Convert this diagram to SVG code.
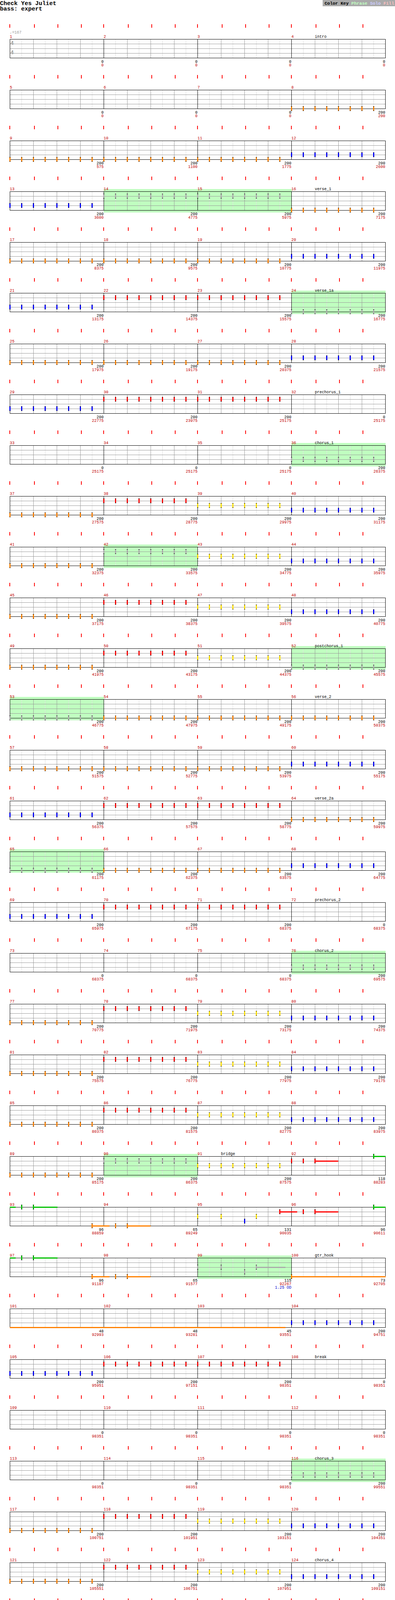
<svg xmlns="http://www.w3.org/2000/svg" width="1010" height="5185" viewBox="0 0 1010 5185">
<defs>
<style>
.t{font-family:"Liberation Mono","DejaVu Sans Mono",monospace;font-size:10px}
.mn{fill:#c00000}
.lb{fill:#000}
.sb{text-anchor:end;fill:#000}
.sr{text-anchor:end;fill:#c00000}
.ph{fill:#c0ffc0}
.sO{fill:#ff8000}.sR{fill:#ff0000}.sG{fill:#00c000}.sS{fill:#aaaaaa}
</style>
<g id="staff" fill="none">
<path stroke="#dddddd" d="M55.5 0V48M115.5 0V48M175.5 0V48M235.5 0V48M295.5 0V48M355.5 0V48M415.5 0V48M475.5 0V48M535.5 0V48M595.5 0V48M655.5 0V48M715.5 0V48M775.5 0V48M835.5 0V48M895.5 0V48M955.5 0V48"/>
<path stroke="#999999" d="M85.5 0V48M145.5 0V48M205.5 0V48M325.5 0V48M385.5 0V48M445.5 0V48M565.5 0V48M625.5 0V48M685.5 0V48M805.5 0V48M865.5 0V48M925.5 0V48M25 12.5H985M25 24.5H985M25 36.5H985"/>
<path stroke="#000" d="M265.5 0V48M505.5 0V48M745.5 0V48"/>
<rect x="25.5" y="0.5" width="960" height="48" stroke="#000"/>
</g>
<g id="ticks" fill="#ff0000">
<rect x="24" y="-38" width="2" height="9"/><rect x="87" y="-38" width="2" height="9"/><rect x="147" y="-38" width="2" height="9"/><rect x="207" y="-38" width="2" height="9"/>
<rect x="264" y="-38" width="2" height="9"/><rect x="327" y="-38" width="2" height="9"/><rect x="387" y="-38" width="2" height="9"/><rect x="447" y="-38" width="2" height="9"/>
<rect x="504" y="-38" width="2" height="9"/><rect x="567" y="-38" width="2" height="9"/><rect x="627" y="-38" width="2" height="9"/><rect x="687" y="-38" width="2" height="9"/>
<rect x="744" y="-38" width="2" height="9"/><rect x="807" y="-38" width="2" height="9"/><rect x="867" y="-38" width="2" height="9"/><rect x="927" y="-38" width="2" height="9"/>
</g>
<g id="nO"><rect x="-1" y="-6" width="3" height="12"/><rect x="-1" y="-5" width="3" height="10" fill="#ff8000"/></g>
<g id="nB"><rect x="-1" y="-6" width="3" height="12"/><rect x="-1" y="-5" width="3" height="10" fill="#0000ff"/></g>
<g id="nR"><rect x="-1" y="-6" width="3" height="12"/><rect x="-1" y="-5" width="3" height="10" fill="#ff0000"/></g>
<g id="nY"><rect x="-1" y="-6" width="3" height="12"/><rect x="-1" y="-5" width="3" height="10" fill="#ffe000"/></g>
<g id="nG"><rect x="-1" y="-6" width="3" height="12"/><rect x="-1" y="-5" width="3" height="10" fill="#00c000"/></g>
<g id="nS"><rect x="-1" y="-6" width="3" height="12"/><rect x="-1" y="-5" width="3" height="10" fill="#aaaaaa"/></g>
<g id="o8"><use href="#nO" y="48"/><use href="#nO" x="30" y="48"/><use href="#nO" x="60" y="48"/><use href="#nO" x="90" y="48"/><use href="#nO" x="120" y="48"/><use href="#nO" x="150" y="48"/><use href="#nO" x="180" y="48"/><use href="#nO" x="210" y="48"/></g>
<g id="b8"><use href="#nB" y="36"/><use href="#nB" x="30" y="36"/><use href="#nB" x="60" y="36"/><use href="#nB" x="90" y="36"/><use href="#nB" x="120" y="36"/><use href="#nB" x="150" y="36"/><use href="#nB" x="180" y="36"/><use href="#nB" x="210" y="36"/></g>
<g id="r8"><use href="#nR" y="12"/><use href="#nR" x="30" y="12"/><use href="#nR" x="60" y="12"/><use href="#nR" x="90" y="12"/><use href="#nR" x="120" y="12"/><use href="#nR" x="150" y="12"/><use href="#nR" x="180" y="12"/><use href="#nR" x="210" y="12"/></g>
<g id="y8"><use href="#nY" y="24"/><use href="#nY" x="30" y="24"/><use href="#nY" x="60" y="24"/><use href="#nY" x="90" y="24"/><use href="#nY" x="120" y="24"/><use href="#nY" x="150" y="24"/><use href="#nY" x="180" y="24"/><use href="#nY" x="210" y="24"/></g>
<g id="so8"><use href="#nS" y="48"/><use href="#nS" x="30" y="48"/><use href="#nS" x="60" y="48"/><use href="#nS" x="90" y="48"/><use href="#nS" x="120" y="48"/><use href="#nS" x="150" y="48"/><use href="#nS" x="180" y="48"/><use href="#nS" x="210" y="48"/></g>
<g id="sb8"><use href="#nS" y="36"/><use href="#nS" x="30" y="36"/><use href="#nS" x="60" y="36"/><use href="#nS" x="90" y="36"/><use href="#nS" x="120" y="36"/><use href="#nS" x="150" y="36"/><use href="#nS" x="180" y="36"/><use href="#nS" x="210" y="36"/></g>
<g id="sr8"><use href="#nS" y="12"/><use href="#nS" x="30" y="12"/><use href="#nS" x="60" y="12"/><use href="#nS" x="90" y="12"/><use href="#nS" x="120" y="12"/><use href="#nS" x="150" y="12"/><use href="#nS" x="180" y="12"/><use href="#nS" x="210" y="12"/></g>
<g id="sy8"><use href="#nS" y="24"/><use href="#nS" x="30" y="24"/><use href="#nS" x="60" y="24"/><use href="#nS" x="90" y="24"/><use href="#nS" x="120" y="24"/><use href="#nS" x="150" y="24"/><use href="#nS" x="180" y="24"/><use href="#nS" x="210" y="24"/></g>
<g id="riff">
<rect class="sG" x="25" y="-1" width="15" height="3"/><use href="#nG" x="55" y="0"/>
<rect class="sG" x="85" y="-1" width="62" height="3"/><use href="#nG" x="85" y="0"/>
<rect class="sO" x="235" y="47" width="45" height="3"/><use href="#nO" x="235" y="48"/>
<use href="#nO" x="295" y="48"/>
<rect class="sO" x="325" y="47" width="60" height="3"/><use href="#nO" x="325" y="48"/>
</g>
</defs>
<rect width="1010" height="5185" fill="#fff"/>

<g id="header">
<text x="0" y="12.5" font-family="Liberation Mono, DejaVu Sans Mono, monospace" font-size="15" font-weight="bold" fill="#000">Check Yes Juliet</text>
<text x="0" y="26.5" font-family="Liberation Mono, DejaVu Sans Mono, monospace" font-size="15" font-weight="bold" fill="#000">bass: expert</text>
<rect x="825" y="0" width="185" height="16" fill="#aaaaaa"/>
<text x="830" y="11.5" font-family="Liberation Mono, DejaVu Sans Mono, monospace" font-size="11.4" font-weight="bold" fill="#000">Color Key <tspan fill="#c0ffc0">Phrase</tspan> <tspan fill="#ccccff">Solo</tspan> <tspan fill="#ffc0c0">Fill</tspan></text>
</g>

<g id="row1" transform="translate(0,100)">
<use href="#staff"/><use href="#ticks"/>
<text class="t" x="25" y="-14" fill="#999999">♩=167</text>
<text x="27" y="15" font-family="Liberation Sans, Arial, sans-serif" font-size="14" font-weight="bold" fill="#999999">4</text>
<text x="27" y="39" font-family="Liberation Sans, Arial, sans-serif" font-size="14" font-weight="bold" fill="#999999">4</text>
<text class="t mn"><tspan x="25" y="-3">1</tspan><tspan x="265" y="-3">2</tspan><tspan x="505" y="-3">3</tspan><tspan x="745" y="-3">4</tspan></text>
<text class="t lb" x="805" y="-3">intro</text>
<text class="t sb"><tspan x="265" y="61">0</tspan><tspan x="505" y="61">0</tspan><tspan x="745" y="61">0</tspan><tspan x="985" y="61">0</tspan></text>
<text class="t sr"><tspan x="265" y="70">0</tspan><tspan x="505" y="70">0</tspan><tspan x="745" y="70">0</tspan><tspan x="985" y="70">0</tspan></text>
</g>

<g id="row2" transform="translate(0,230)">
<use href="#staff"/><use href="#ticks"/>
<text class="t mn"><tspan x="25" y="-3">5</tspan><tspan x="265" y="-3">6</tspan><tspan x="505" y="-3">7</tspan><tspan x="745" y="-3">8</tspan></text>
<use href="#o8" x="745"/>
<text class="t sb"><tspan x="265" y="61">0</tspan><tspan x="505" y="61">0</tspan><tspan x="745" y="61">0</tspan><tspan x="985" y="61">200</tspan></text>
<text class="t sr"><tspan x="265" y="70">0</tspan><tspan x="505" y="70">0</tspan><tspan x="745" y="70">0</tspan><tspan x="985" y="70">200</tspan></text>
</g>

<g id="row3" transform="translate(0,360)">
<use href="#staff"/><use href="#ticks"/>
<text class="t mn"><tspan x="25" y="-3">9</tspan><tspan x="265" y="-3">10</tspan><tspan x="505" y="-3">11</tspan><tspan x="745" y="-3">12</tspan></text>
<use href="#o8" x="25"/><use href="#o8" x="265"/><use href="#o8" x="505"/><use href="#b8" x="745"/>
<text class="t sb"><tspan x="265" y="61">200</tspan><tspan x="505" y="61">200</tspan><tspan x="745" y="61">200</tspan><tspan x="985" y="61">200</tspan></text>
<text class="t sr"><tspan x="265" y="70">575</tspan><tspan x="505" y="70">1100</tspan><tspan x="745" y="70">1775</tspan><tspan x="985" y="70">2600</tspan></text>
</g>

<g id="row4" transform="translate(0,490)">
<rect class="ph" x="265" y="-6" width="481" height="60"/>
<use href="#staff"/><use href="#ticks"/>
<text class="t mn"><tspan x="25" y="-3">13</tspan><tspan x="265" y="-3">14</tspan><tspan x="505" y="-3">15</tspan><tspan x="745" y="-3">16</tspan></text>
<text class="t lb" x="805" y="-3">verse_1</text>
<use href="#b8" x="25"/><use href="#sr8" x="265"/><use href="#sr8" x="505"/><use href="#o8" x="745"/>
<text class="t sb"><tspan x="265" y="61">200</tspan><tspan x="505" y="61">200</tspan><tspan x="745" y="61">200</tspan><tspan x="985" y="61">200</tspan></text>
<text class="t sr"><tspan x="265" y="70">3600</tspan><tspan x="505" y="70">4775</tspan><tspan x="745" y="70">5975</tspan><tspan x="985" y="70">7175</tspan></text>
</g>

<g id="row5" transform="translate(0,620)">
<use href="#staff"/><use href="#ticks"/>
<text class="t mn"><tspan x="25" y="-3">17</tspan><tspan x="265" y="-3">18</tspan><tspan x="505" y="-3">19</tspan><tspan x="745" y="-3">20</tspan></text>
<use href="#o8" x="25"/><use href="#o8" x="265"/><use href="#o8" x="505"/><use href="#b8" x="745"/>
<text class="t sb"><tspan x="265" y="61">200</tspan><tspan x="505" y="61">200</tspan><tspan x="745" y="61">200</tspan><tspan x="985" y="61">200</tspan></text>
<text class="t sr"><tspan x="265" y="70">8375</tspan><tspan x="505" y="70">9575</tspan><tspan x="745" y="70">10775</tspan><tspan x="985" y="70">11975</tspan></text>
</g>

<g id="row6" transform="translate(0,750)">
<rect class="ph" x="745" y="-6" width="241" height="60"/>
<use href="#staff"/><use href="#ticks"/>
<text class="t mn"><tspan x="25" y="-3">21</tspan><tspan x="265" y="-3">22</tspan><tspan x="505" y="-3">23</tspan><tspan x="745" y="-3">24</tspan></text>
<text class="t lb" x="805" y="-3">verse_1a</text>
<use href="#b8" x="25"/><use href="#r8" x="265"/><use href="#r8" x="505"/><use href="#so8" x="745"/>
<text class="t sb"><tspan x="265" y="61">200</tspan><tspan x="505" y="61">200</tspan><tspan x="745" y="61">200</tspan><tspan x="985" y="61">200</tspan></text>
<text class="t sr"><tspan x="265" y="70">13175</tspan><tspan x="505" y="70">14375</tspan><tspan x="745" y="70">15575</tspan><tspan x="985" y="70">16775</tspan></text>
</g>

<g id="row7" transform="translate(0,880)">
<use href="#staff"/><use href="#ticks"/>
<text class="t mn"><tspan x="25" y="-3">25</tspan><tspan x="265" y="-3">26</tspan><tspan x="505" y="-3">27</tspan><tspan x="745" y="-3">28</tspan></text>
<use href="#o8" x="25"/><use href="#o8" x="265"/><use href="#o8" x="505"/><use href="#b8" x="745"/>
<text class="t sb"><tspan x="265" y="61">200</tspan><tspan x="505" y="61">200</tspan><tspan x="745" y="61">200</tspan><tspan x="985" y="61">200</tspan></text>
<text class="t sr"><tspan x="265" y="70">17975</tspan><tspan x="505" y="70">19175</tspan><tspan x="745" y="70">20375</tspan><tspan x="985" y="70">21575</tspan></text>
</g>

<g id="row8" transform="translate(0,1010)">
<use href="#staff"/><use href="#ticks"/>
<text class="t mn"><tspan x="25" y="-3">29</tspan><tspan x="265" y="-3">30</tspan><tspan x="505" y="-3">31</tspan><tspan x="745" y="-3">32</tspan></text>
<text class="t lb" x="805" y="-3">prechorus_1</text>
<use href="#b8" x="25"/><use href="#r8" x="265"/><use href="#r8" x="505"/>
<text class="t sb"><tspan x="265" y="61">200</tspan><tspan x="505" y="61">200</tspan><tspan x="745" y="61">200</tspan><tspan x="985" y="61">0</tspan></text>
<text class="t sr"><tspan x="265" y="70">22775</tspan><tspan x="505" y="70">23975</tspan><tspan x="745" y="70">25175</tspan><tspan x="985" y="70">25175</tspan></text>
</g>

<g id="row9" transform="translate(0,1140)">
<rect class="ph" x="745" y="-6" width="241" height="60"/>
<use href="#staff"/><use href="#ticks"/>
<text class="t mn"><tspan x="25" y="-3">33</tspan><tspan x="265" y="-3">34</tspan><tspan x="505" y="-3">35</tspan><tspan x="745" y="-3">36</tspan></text>
<text class="t lb" x="805" y="-3">chorus_1</text>
<use href="#sb8" x="745"/>
<text class="t sb"><tspan x="265" y="61">0</tspan><tspan x="505" y="61">0</tspan><tspan x="745" y="61">0</tspan><tspan x="985" y="61">200</tspan></text>
<text class="t sr"><tspan x="265" y="70">25175</tspan><tspan x="505" y="70">25175</tspan><tspan x="745" y="70">25175</tspan><tspan x="985" y="70">26375</tspan></text>
</g>

<g id="row10" transform="translate(0,1270)">
<use href="#staff"/><use href="#ticks"/>
<text class="t mn"><tspan x="25" y="-3">37</tspan><tspan x="265" y="-3">38</tspan><tspan x="505" y="-3">39</tspan><tspan x="745" y="-3">40</tspan></text>
<use href="#o8" x="25"/><use href="#r8" x="265"/><use href="#y8" x="505"/><use href="#b8" x="745"/>
<text class="t sb"><tspan x="265" y="61">200</tspan><tspan x="505" y="61">200</tspan><tspan x="745" y="61">200</tspan><tspan x="985" y="61">200</tspan></text>
<text class="t sr"><tspan x="265" y="70">27575</tspan><tspan x="505" y="70">28775</tspan><tspan x="745" y="70">29975</tspan><tspan x="985" y="70">31175</tspan></text>
</g>

<g id="row11" transform="translate(0,1400)">
<rect class="ph" x="265" y="-6" width="241" height="60"/>
<use href="#staff"/><use href="#ticks"/>
<text class="t mn"><tspan x="25" y="-3">41</tspan><tspan x="265" y="-3">42</tspan><tspan x="505" y="-3">43</tspan><tspan x="745" y="-3">44</tspan></text>
<use href="#o8" x="25"/><use href="#sr8" x="265"/><use href="#y8" x="505"/><use href="#b8" x="745"/>
<text class="t sb"><tspan x="265" y="61">200</tspan><tspan x="505" y="61">200</tspan><tspan x="745" y="61">200</tspan><tspan x="985" y="61">200</tspan></text>
<text class="t sr"><tspan x="265" y="70">32375</tspan><tspan x="505" y="70">33575</tspan><tspan x="745" y="70">34775</tspan><tspan x="985" y="70">35975</tspan></text>
</g>

<g id="row12" transform="translate(0,1530)">
<use href="#staff"/><use href="#ticks"/>
<text class="t mn"><tspan x="25" y="-3">45</tspan><tspan x="265" y="-3">46</tspan><tspan x="505" y="-3">47</tspan><tspan x="745" y="-3">48</tspan></text>
<use href="#o8" x="25"/><use href="#r8" x="265"/><use href="#y8" x="505"/><use href="#b8" x="745"/>
<text class="t sb"><tspan x="265" y="61">200</tspan><tspan x="505" y="61">200</tspan><tspan x="745" y="61">200</tspan><tspan x="985" y="61">200</tspan></text>
<text class="t sr"><tspan x="265" y="70">37175</tspan><tspan x="505" y="70">38375</tspan><tspan x="745" y="70">39575</tspan><tspan x="985" y="70">40775</tspan></text>
</g>

<g id="row13" transform="translate(0,1660)">
<rect class="ph" x="745" y="-6" width="241" height="60"/>
<use href="#staff"/><use href="#ticks"/>
<text class="t mn"><tspan x="25" y="-3">49</tspan><tspan x="265" y="-3">50</tspan><tspan x="505" y="-3">51</tspan><tspan x="745" y="-3">52</tspan></text>
<text class="t lb" x="805" y="-3">postchorus_1</text>
<use href="#o8" x="25"/><use href="#r8" x="265"/><use href="#y8" x="505"/><use href="#so8" x="745"/>
<text class="t sb"><tspan x="265" y="61">200</tspan><tspan x="505" y="61">200</tspan><tspan x="745" y="61">200</tspan><tspan x="985" y="61">200</tspan></text>
<text class="t sr"><tspan x="265" y="70">41975</tspan><tspan x="505" y="70">43175</tspan><tspan x="745" y="70">44375</tspan><tspan x="985" y="70">45575</tspan></text>
</g>

<g id="row14" transform="translate(0,1790)">
<rect class="ph" x="25" y="-6" width="241" height="60"/>
<use href="#staff"/><use href="#ticks"/>
<text class="t mn"><tspan x="25" y="-3">53</tspan><tspan x="265" y="-3">54</tspan><tspan x="505" y="-3">55</tspan><tspan x="745" y="-3">56</tspan></text>
<text class="t lb" x="805" y="-3">verse_2</text>
<use href="#so8" x="25"/><use href="#o8" x="265"/><use href="#o8" x="505"/><use href="#o8" x="745"/>
<text class="t sb"><tspan x="265" y="61">200</tspan><tspan x="505" y="61">200</tspan><tspan x="745" y="61">200</tspan><tspan x="985" y="61">200</tspan></text>
<text class="t sr"><tspan x="265" y="70">46775</tspan><tspan x="505" y="70">47975</tspan><tspan x="745" y="70">49175</tspan><tspan x="985" y="70">50375</tspan></text>
</g>

<g id="row15" transform="translate(0,1920)">
<use href="#staff"/><use href="#ticks"/>
<text class="t mn"><tspan x="25" y="-3">57</tspan><tspan x="265" y="-3">58</tspan><tspan x="505" y="-3">59</tspan><tspan x="745" y="-3">60</tspan></text>
<use href="#o8" x="25"/><use href="#o8" x="265"/><use href="#o8" x="505"/><use href="#b8" x="745"/>
<text class="t sb"><tspan x="265" y="61">200</tspan><tspan x="505" y="61">200</tspan><tspan x="745" y="61">200</tspan><tspan x="985" y="61">200</tspan></text>
<text class="t sr"><tspan x="265" y="70">51575</tspan><tspan x="505" y="70">52775</tspan><tspan x="745" y="70">53975</tspan><tspan x="985" y="70">55175</tspan></text>
</g>

<g id="row16" transform="translate(0,2050)">
<use href="#staff"/><use href="#ticks"/>
<text class="t mn"><tspan x="25" y="-3">61</tspan><tspan x="265" y="-3">62</tspan><tspan x="505" y="-3">63</tspan><tspan x="745" y="-3">64</tspan></text>
<text class="t lb" x="805" y="-3">verse_2a</text>
<use href="#b8" x="25"/><use href="#r8" x="265"/><use href="#r8" x="505"/><use href="#o8" x="745"/>
<text class="t sb"><tspan x="265" y="61">200</tspan><tspan x="505" y="61">200</tspan><tspan x="745" y="61">200</tspan><tspan x="985" y="61">200</tspan></text>
<text class="t sr"><tspan x="265" y="70">56375</tspan><tspan x="505" y="70">57575</tspan><tspan x="745" y="70">58775</tspan><tspan x="985" y="70">59975</tspan></text>
</g>

<g id="row17" transform="translate(0,2180)">
<rect class="ph" x="25" y="-6" width="241" height="60"/>
<use href="#staff"/><use href="#ticks"/>
<text class="t mn"><tspan x="25" y="-3">65</tspan><tspan x="265" y="-3">66</tspan><tspan x="505" y="-3">67</tspan><tspan x="745" y="-3">68</tspan></text>
<use href="#so8" x="25"/><use href="#o8" x="265"/><use href="#o8" x="505"/><use href="#b8" x="745"/>
<text class="t sb"><tspan x="265" y="61">200</tspan><tspan x="505" y="61">200</tspan><tspan x="745" y="61">200</tspan><tspan x="985" y="61">200</tspan></text>
<text class="t sr"><tspan x="265" y="70">61175</tspan><tspan x="505" y="70">62375</tspan><tspan x="745" y="70">63575</tspan><tspan x="985" y="70">64775</tspan></text>
</g>

<g id="row18" transform="translate(0,2310)">
<use href="#staff"/><use href="#ticks"/>
<text class="t mn"><tspan x="25" y="-3">69</tspan><tspan x="265" y="-3">70</tspan><tspan x="505" y="-3">71</tspan><tspan x="745" y="-3">72</tspan></text>
<text class="t lb" x="805" y="-3">prechorus_2</text>
<use href="#b8" x="25"/><use href="#r8" x="265"/><use href="#r8" x="505"/>
<text class="t sb"><tspan x="265" y="61">200</tspan><tspan x="505" y="61">200</tspan><tspan x="745" y="61">200</tspan><tspan x="985" y="61">0</tspan></text>
<text class="t sr"><tspan x="265" y="70">65975</tspan><tspan x="505" y="70">67175</tspan><tspan x="745" y="70">68375</tspan><tspan x="985" y="70">68375</tspan></text>
</g>

<g id="row19" transform="translate(0,2440)">
<rect class="ph" x="745" y="-6" width="241" height="60"/>
<use href="#staff"/><use href="#ticks"/>
<text class="t mn"><tspan x="25" y="-3">73</tspan><tspan x="265" y="-3">74</tspan><tspan x="505" y="-3">75</tspan><tspan x="745" y="-3">76</tspan></text>
<text class="t lb" x="805" y="-3">chorus_2</text>
<use href="#sb8" x="745"/>
<text class="t sb"><tspan x="265" y="61">0</tspan><tspan x="505" y="61">0</tspan><tspan x="745" y="61">0</tspan><tspan x="985" y="61">200</tspan></text>
<text class="t sr"><tspan x="265" y="70">68375</tspan><tspan x="505" y="70">68375</tspan><tspan x="745" y="70">68375</tspan><tspan x="985" y="70">69575</tspan></text>
</g>

<g id="row20" transform="translate(0,2570)">
<use href="#staff"/><use href="#ticks"/>
<text class="t mn"><tspan x="25" y="-3">77</tspan><tspan x="265" y="-3">78</tspan><tspan x="505" y="-3">79</tspan><tspan x="745" y="-3">80</tspan></text>
<use href="#o8" x="25"/><use href="#r8" x="265"/><use href="#y8" x="505"/><use href="#b8" x="745"/>
<text class="t sb"><tspan x="265" y="61">200</tspan><tspan x="505" y="61">200</tspan><tspan x="745" y="61">200</tspan><tspan x="985" y="61">200</tspan></text>
<text class="t sr"><tspan x="265" y="70">70775</tspan><tspan x="505" y="70">71975</tspan><tspan x="745" y="70">73175</tspan><tspan x="985" y="70">74375</tspan></text>
</g>

<g id="row21" transform="translate(0,2700)">
<use href="#staff"/><use href="#ticks"/>
<text class="t mn"><tspan x="25" y="-3">81</tspan><tspan x="265" y="-3">82</tspan><tspan x="505" y="-3">83</tspan><tspan x="745" y="-3">84</tspan></text>
<use href="#o8" x="25"/><use href="#r8" x="265"/><use href="#y8" x="505"/><use href="#b8" x="745"/>
<text class="t sb"><tspan x="265" y="61">200</tspan><tspan x="505" y="61">200</tspan><tspan x="745" y="61">200</tspan><tspan x="985" y="61">200</tspan></text>
<text class="t sr"><tspan x="265" y="70">75575</tspan><tspan x="505" y="70">76775</tspan><tspan x="745" y="70">77975</tspan><tspan x="985" y="70">79175</tspan></text>
</g>

<g id="row22" transform="translate(0,2830)">
<use href="#staff"/><use href="#ticks"/>
<text class="t mn"><tspan x="25" y="-3">85</tspan><tspan x="265" y="-3">86</tspan><tspan x="505" y="-3">87</tspan><tspan x="745" y="-3">88</tspan></text>
<use href="#o8" x="25"/><use href="#r8" x="265"/><use href="#y8" x="505"/><use href="#b8" x="745"/>
<text class="t sb"><tspan x="265" y="61">200</tspan><tspan x="505" y="61">200</tspan><tspan x="745" y="61">200</tspan><tspan x="985" y="61">200</tspan></text>
<text class="t sr"><tspan x="265" y="70">80375</tspan><tspan x="505" y="70">81575</tspan><tspan x="745" y="70">82775</tspan><tspan x="985" y="70">83975</tspan></text>
</g>

<g id="row23" transform="translate(0,2960)">
<rect class="ph" x="265" y="-6" width="241" height="60"/>
<use href="#staff"/><use href="#ticks"/>
<text class="t mn"><tspan x="25" y="-3">89</tspan><tspan x="265" y="-3">90</tspan><tspan x="505" y="-3">91</tspan><tspan x="745" y="-3">92</tspan></text>
<text class="t lb" x="565" y="-3">bridge</text>
<use href="#o8" x="25"/><use href="#sr8" x="265"/><use href="#y8" x="505"/>
<use href="#nR" x="745" y="12"/><use href="#nR" x="775" y="12"/>
<rect class="sR" x="805" y="11" width="60" height="3"/><use href="#nR" x="805" y="12"/>
<rect class="sG" x="955" y="-1" width="31" height="3"/><use href="#nG" x="955" y="0"/>
<text class="t sb"><tspan x="265" y="61">200</tspan><tspan x="505" y="61">200</tspan><tspan x="745" y="61">200</tspan><tspan x="985" y="61">118</tspan></text>
<text class="t sr"><tspan x="265" y="70">85175</tspan><tspan x="505" y="70">86375</tspan><tspan x="745" y="70">87575</tspan><tspan x="985" y="70">88283</tspan></text>
</g>

<g id="row24" transform="translate(0,3090)">
<use href="#staff"/><use href="#ticks"/>
<text class="t mn"><tspan x="25" y="-3">93</tspan><tspan x="265" y="-3">94</tspan><tspan x="505" y="-3">95</tspan><tspan x="745" y="-3">96</tspan></text>
<use href="#riff"/>
<use href="#nY" x="505" y="24"/><use href="#nY" x="565" y="24"/><use href="#nB" x="625" y="36"/><use href="#nY" x="655" y="24"/>
<rect class="sR" x="715" y="11" width="45" height="3"/><use href="#nR" x="715" y="12"/>
<use href="#nR" x="775" y="12"/>
<rect class="sR" x="805" y="11" width="60" height="3"/><use href="#nR" x="805" y="12"/>
<rect class="sG" x="955" y="-1" width="31" height="3"/><use href="#nG" x="955" y="0"/>
<text class="t sb"><tspan x="265" y="61">96</tspan><tspan x="505" y="61">65</tspan><tspan x="745" y="61">131</tspan><tspan x="985" y="61">96</tspan></text>
<text class="t sr"><tspan x="265" y="70">88859</tspan><tspan x="505" y="70">89249</tspan><tspan x="745" y="70">90035</tspan><tspan x="985" y="70">90611</tspan></text>
</g>

<g id="row25" transform="translate(0,3220)">
<rect class="ph" x="505" y="-6" width="241" height="60"/>
<use href="#staff"/><use href="#ticks"/>
<text class="t mn"><tspan x="25" y="-3">97</tspan><tspan x="265" y="-3">98</tspan><tspan x="505" y="-3">99</tspan><tspan x="745" y="-3">100</tspan></text>
<text class="t lb" x="805" y="-3">gtr_hook</text>
<use href="#riff"/>
<use href="#nS" x="505" y="24"/><use href="#nS" x="565" y="24"/><use href="#nS" x="625" y="36"/>
<rect class="sS" x="655" y="23" width="75" height="3"/><use href="#nS" x="655" y="24"/>
<rect class="sO" x="745" y="47" width="241" height="3"/><use href="#nO" x="745" y="48"/>
<text class="t sb"><tspan x="265" y="61">96</tspan><tspan x="505" y="61">65</tspan><tspan x="745" y="61">115</tspan><tspan x="985" y="61">73</tspan></text>
<text class="t sr"><tspan x="265" y="70">91187</tspan><tspan x="505" y="70">91577</tspan><tspan x="745" y="70">92267</tspan><tspan x="985" y="70">92705</tspan></text>
<text class="t" x="745" y="79" text-anchor="end" fill="#0000cc">1.25 OD</text>
</g>

<g id="row26" transform="translate(0,3350)">
<use href="#staff"/><use href="#ticks"/>
<text class="t mn"><tspan x="25" y="-3">101</tspan><tspan x="265" y="-3">102</tspan><tspan x="505" y="-3">103</tspan><tspan x="745" y="-3">104</tspan></text>
<rect class="sO" x="25" y="47" width="705" height="3"/>
<use href="#b8" x="745"/>
<text class="t sb"><tspan x="265" y="61">48</tspan><tspan x="505" y="61">48</tspan><tspan x="745" y="61">45</tspan><tspan x="985" y="61">200</tspan></text>
<text class="t sr"><tspan x="265" y="70">92993</tspan><tspan x="505" y="70">93281</tspan><tspan x="745" y="70">93551</tspan><tspan x="985" y="70">94751</tspan></text>
</g>

<g id="row27" transform="translate(0,3480)">
<use href="#staff"/><use href="#ticks"/>
<text class="t mn"><tspan x="25" y="-3">105</tspan><tspan x="265" y="-3">106</tspan><tspan x="505" y="-3">107</tspan><tspan x="745" y="-3">108</tspan></text>
<text class="t lb" x="805" y="-3">break</text>
<use href="#b8" x="25"/><use href="#r8" x="265"/><use href="#r8" x="505"/>
<text class="t sb"><tspan x="265" y="61">200</tspan><tspan x="505" y="61">200</tspan><tspan x="745" y="61">200</tspan><tspan x="985" y="61">0</tspan></text>
<text class="t sr"><tspan x="265" y="70">95951</tspan><tspan x="505" y="70">97151</tspan><tspan x="745" y="70">98351</tspan><tspan x="985" y="70">98351</tspan></text>
</g>

<g id="row28" transform="translate(0,3610)">
<use href="#staff"/><use href="#ticks"/>
<text class="t mn"><tspan x="25" y="-3">109</tspan><tspan x="265" y="-3">110</tspan><tspan x="505" y="-3">111</tspan><tspan x="745" y="-3">112</tspan></text>
<text class="t sb"><tspan x="265" y="61">0</tspan><tspan x="505" y="61">0</tspan><tspan x="745" y="61">0</tspan><tspan x="985" y="61">0</tspan></text>
<text class="t sr"><tspan x="265" y="70">98351</tspan><tspan x="505" y="70">98351</tspan><tspan x="745" y="70">98351</tspan><tspan x="985" y="70">98351</tspan></text>
</g>

<g id="row29" transform="translate(0,3740)">
<rect class="ph" x="745" y="-6" width="241" height="60"/>
<use href="#staff"/><use href="#ticks"/>
<text class="t mn"><tspan x="25" y="-3">113</tspan><tspan x="265" y="-3">114</tspan><tspan x="505" y="-3">115</tspan><tspan x="745" y="-3">116</tspan></text>
<text class="t lb" x="805" y="-3">chorus_3</text>
<use href="#sb8" x="745"/>
<text class="t sb"><tspan x="265" y="61">0</tspan><tspan x="505" y="61">0</tspan><tspan x="745" y="61">0</tspan><tspan x="985" y="61">200</tspan></text>
<text class="t sr"><tspan x="265" y="70">98351</tspan><tspan x="505" y="70">98351</tspan><tspan x="745" y="70">98351</tspan><tspan x="985" y="70">99551</tspan></text>
</g>

<g id="row30" transform="translate(0,3870)">
<use href="#staff"/><use href="#ticks"/>
<text class="t mn"><tspan x="25" y="-3">117</tspan><tspan x="265" y="-3">118</tspan><tspan x="505" y="-3">119</tspan><tspan x="745" y="-3">120</tspan></text>
<use href="#o8" x="25"/><use href="#r8" x="265"/><use href="#y8" x="505"/><use href="#b8" x="745"/>
<text class="t sb"><tspan x="265" y="61">200</tspan><tspan x="505" y="61">200</tspan><tspan x="745" y="61">200</tspan><tspan x="985" y="61">200</tspan></text>
<text class="t sr"><tspan x="265" y="70">100751</tspan><tspan x="505" y="70">101951</tspan><tspan x="745" y="70">103151</tspan><tspan x="985" y="70">104351</tspan></text>
</g>

<g id="row31" transform="translate(0,4000)">
<use href="#staff"/><use href="#ticks"/>
<text class="t mn"><tspan x="25" y="-3">121</tspan><tspan x="265" y="-3">122</tspan><tspan x="505" y="-3">123</tspan><tspan x="745" y="-3">124</tspan></text>
<text class="t lb" x="805" y="-3">chorus_4</text>
<use href="#o8" x="25"/><use href="#r8" x="265"/><use href="#y8" x="505"/><use href="#b8" x="745"/>
<text class="t sb"><tspan x="265" y="61">200</tspan><tspan x="505" y="61">200</tspan><tspan x="745" y="61">200</tspan><tspan x="985" y="61">200</tspan></text>
<text class="t sr"><tspan x="265" y="70">105551</tspan><tspan x="505" y="70">106751</tspan><tspan x="745" y="70">107951</tspan><tspan x="985" y="70">109151</tspan></text>
</g>

<g id="row32" transform="translate(0,4130)">
<rect class="ph" x="265" y="-6" width="241" height="60"/>
<use href="#staff"/><use href="#ticks"/>
<text class="t mn"><tspan x="25" y="-3">125</tspan><tspan x="265" y="-3">126</tspan><tspan x="505" y="-3">127</tspan><tspan x="745" y="-3">128</tspan></text>
<use href="#o8" x="25"/><use href="#sr8" x="265"/><use href="#y8" x="505"/><use href="#b8" x="745"/>
<text class="t sb"><tspan x="265" y="61">200</tspan><tspan x="505" y="61">200</tspan><tspan x="745" y="61">200</tspan><tspan x="985" y="61">200</tspan></text>
<text class="t sr"><tspan x="265" y="70">110351</tspan><tspan x="505" y="70">111551</tspan><tspan x="745" y="70">112751</tspan><tspan x="985" y="70">113951</tspan></text>
</g>

<g id="row33" transform="translate(0,4260)">
<use href="#staff"/><use href="#ticks"/>
<text class="t mn"><tspan x="25" y="-3">129</tspan><tspan x="265" y="-3">130</tspan><tspan x="505" y="-3">131</tspan><tspan x="745" y="-3">132</tspan></text>
<use href="#o8" x="25"/><use href="#r8" x="265"/><use href="#y8" x="505"/><use href="#b8" x="745"/>
<text class="t sb"><tspan x="265" y="61">200</tspan><tspan x="505" y="61">200</tspan><tspan x="745" y="61">200</tspan><tspan x="985" y="61">200</tspan></text>
<text class="t sr"><tspan x="265" y="70">115151</tspan><tspan x="505" y="70">116351</tspan><tspan x="745" y="70">117551</tspan><tspan x="985" y="70">118751</tspan></text>
</g>

<g id="row34" transform="translate(0,4390)">
<rect class="ph" x="505" y="-6" width="241" height="60"/>
<use href="#staff"/><use href="#ticks"/>
<text class="t mn"><tspan x="25" y="-3">133</tspan><tspan x="265" y="-3">134</tspan><tspan x="505" y="-3">135</tspan><tspan x="745" y="-3">136</tspan></text>
<use href="#o8" x="25"/><use href="#r8" x="265"/><use href="#sy8" x="505"/><use href="#b8" x="745"/>
<text class="t sb"><tspan x="265" y="61">200</tspan><tspan x="505" y="61">200</tspan><tspan x="745" y="61">200</tspan><tspan x="985" y="61">200</tspan></text>
<text class="t sr"><tspan x="265" y="70">119951</tspan><tspan x="505" y="70">121151</tspan><tspan x="745" y="70">122351</tspan><tspan x="985" y="70">123551</tspan></text>
</g>

<g id="row35" transform="translate(0,4520)">
<use href="#staff"/><use href="#ticks"/>
<text class="t mn"><tspan x="25" y="-3">137</tspan><tspan x="265" y="-3">138</tspan><tspan x="505" y="-3">139</tspan><tspan x="745" y="-3">140</tspan></text>
<text class="t lb" x="805" y="-3">outro</text>
<use href="#o8" x="25"/><use href="#r8" x="265"/><use href="#y8" x="505"/><use href="#o8" x="745"/>
<text class="t sb"><tspan x="265" y="61">200</tspan><tspan x="505" y="61">200</tspan><tspan x="745" y="61">200</tspan><tspan x="985" y="61">200</tspan></text>
<text class="t sr"><tspan x="265" y="70">124751</tspan><tspan x="505" y="70">125951</tspan><tspan x="745" y="70">127151</tspan><tspan x="985" y="70">128351</tspan></text>
</g>

<g id="row36" transform="translate(0,4650)">
<use href="#staff"/><use href="#ticks"/>
<text class="t mn"><tspan x="25" y="-3">141</tspan><tspan x="265" y="-3">142</tspan><tspan x="505" y="-3">143</tspan><tspan x="745" y="-3">144</tspan></text>
<use href="#o8" x="25"/><use href="#o8" x="265"/><use href="#o8" x="505"/><use href="#o8" x="745"/>
<text class="t sb"><tspan x="265" y="61">200</tspan><tspan x="505" y="61">200</tspan><tspan x="745" y="61">200</tspan><tspan x="985" y="61">200</tspan></text>
<text class="t sr"><tspan x="265" y="70">129551</tspan><tspan x="505" y="70">130751</tspan><tspan x="745" y="70">131951</tspan><tspan x="985" y="70">133151</tspan></text>
</g>

<g id="row37" transform="translate(0,4780)">
<use href="#staff"/><use href="#ticks"/>
<text class="t mn"><tspan x="25" y="-3">145</tspan><tspan x="265" y="-3">146</tspan><tspan x="505" y="-3">147</tspan><tspan x="745" y="-3">148</tspan></text>
<use href="#o8" x="25"/><use href="#o8" x="265"/><use href="#o8" x="505"/><use href="#o8" x="745"/>
<text class="t sb"><tspan x="265" y="61">200</tspan><tspan x="505" y="61">200</tspan><tspan x="745" y="61">200</tspan><tspan x="985" y="61">200</tspan></text>
<text class="t sr"><tspan x="265" y="70">134351</tspan><tspan x="505" y="70">135551</tspan><tspan x="745" y="70">136751</tspan><tspan x="985" y="70">137951</tspan></text>
</g>

<g id="row38" transform="translate(0,4910)">
<use href="#staff"/><use href="#ticks"/>
<text class="t mn"><tspan x="25" y="-3">149</tspan><tspan x="265" y="-3">150</tspan><tspan x="505" y="-3">151</tspan><tspan x="745" y="-3">152</tspan></text>
<use href="#o8" x="25"/>
<use href="#nB" x="265" y="36"/><use href="#nO" x="295" y="48"/><use href="#nO" x="325" y="48"/><use href="#nO" x="355" y="48"/><use href="#nO" x="385" y="48"/><use href="#nO" x="415" y="48"/><use href="#nO" x="445" y="48"/><use href="#nO" x="475" y="48"/>
<use href="#o8" x="505"/><use href="#o8" x="745"/>
<text class="t sb"><tspan x="265" y="61">200</tspan><tspan x="505" y="61">200</tspan><tspan x="745" y="61">200</tspan><tspan x="985" y="61">200</tspan></text>
<text class="t sr"><tspan x="265" y="70">139151</tspan><tspan x="505" y="70">140351</tspan><tspan x="745" y="70">141551</tspan><tspan x="985" y="70">142751</tspan></text>
</g>

<g id="row39" transform="translate(0,5040)">
<use href="#staff"/><use href="#ticks"/>
<text class="t mn"><tspan x="25" y="-3">153</tspan><tspan x="265" y="-3">154</tspan><tspan x="505" y="-3">155</tspan><tspan x="745" y="-3">156</tspan></text>
<use href="#o8" x="25"/><use href="#o8" x="265"/><use href="#o8" x="505"/>
<text class="t sb"><tspan x="265" y="61">200</tspan><tspan x="505" y="61">200</tspan><tspan x="745" y="61">200</tspan><tspan x="985" y="61">0</tspan></text>
<text class="t sr"><tspan x="265" y="70">143951</tspan><tspan x="505" y="70">145151</tspan><tspan x="745" y="70">146351</tspan><tspan x="985" y="70">146351</tspan></text>
</g>

<g id="footer" font-family="Liberation Mono, DejaVu Sans Mono, monospace" font-size="11.5">
<text x="0" y="5168" fill="#808080">http://charts.ajanata.com/rb/</text>
<text x="0" y="5182" fill="#ff0000">WARNING: Work in progress. This information has NOT BEEN VERIFIED and MAY BE INCORRECT.</text>
<text x="1003" y="5168" fill="#808080" text-anchor="end">Generated at Fri, 26 Aug 2011 03:39:11 -0400.</text>
<text x="1003" y="5182" fill="#808080" text-anchor="end">Generated by ajanata's Chart Generator, r299.</text>
</g>
</svg>
